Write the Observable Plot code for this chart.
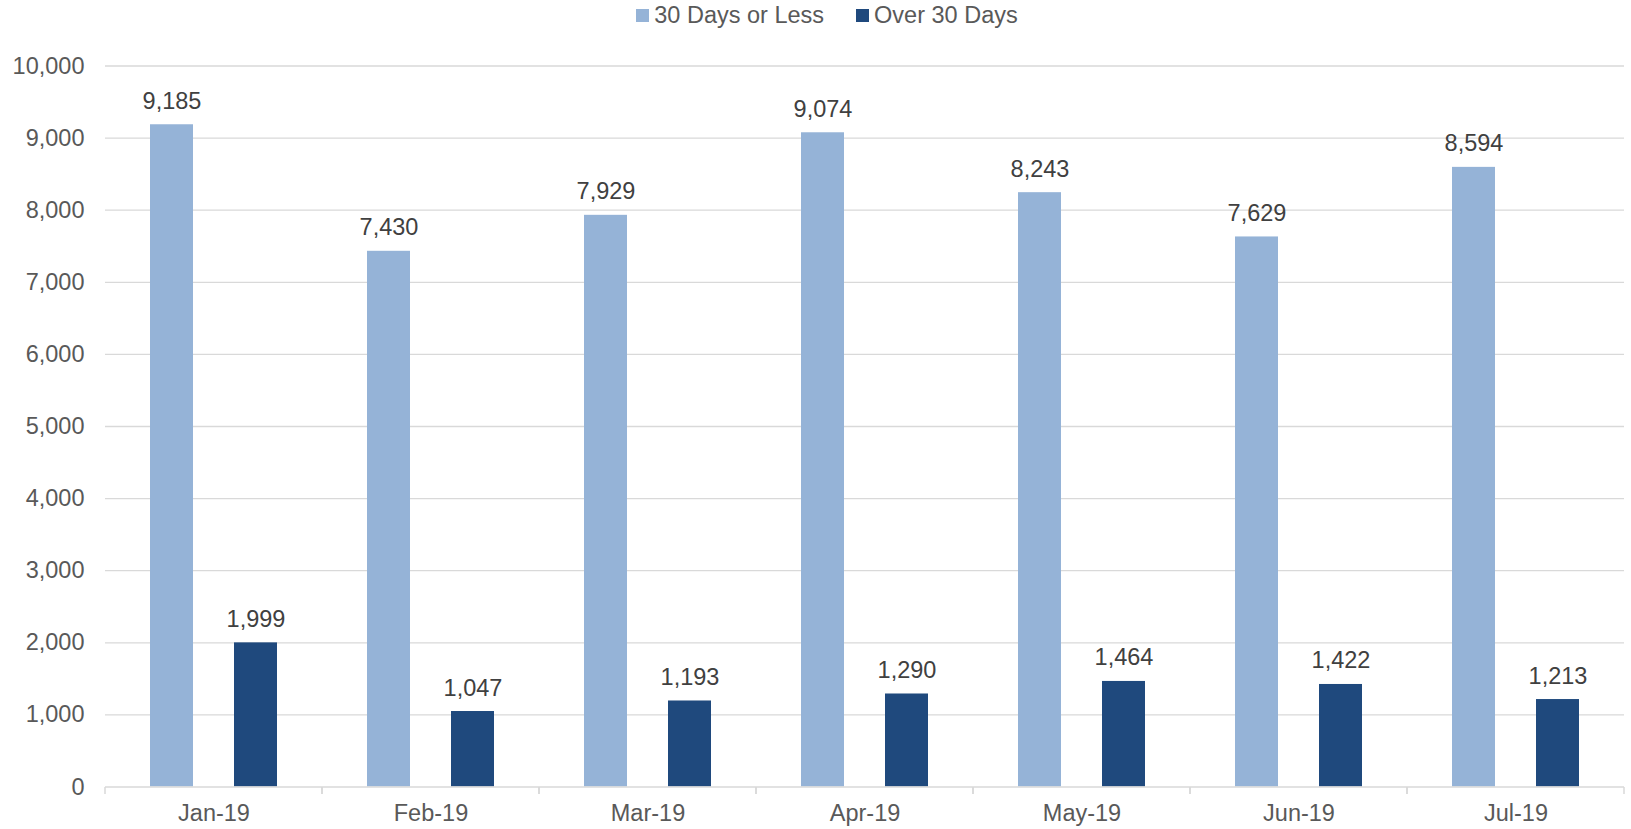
<!DOCTYPE html>
<html><head><meta charset="utf-8">
<script src="https://cdn.jsdelivr.net/npm/d3@7"></script>
<script src="https://cdn.jsdelivr.net/npm/@observablehq/plot@0.6"></script>
<style>
body{margin:0;background:#fff;font-family:"Liberation Sans",Arial,sans-serif;}
#wrap{position:relative;width:1631px;height:829px;}
#legend{position:absolute;left:0;top:0;width:1631px;height:30px;display:flex;justify-content:center;align-items:center;gap:32px;font-size:23.5px;color:#595959;padding-left:23px;box-sizing:border-box;}
#legend span.item{display:inline-flex;align-items:center;}
.sw{display:inline-block;width:13px;height:13px;margin-right:5px;}
</style></head><body>
<div id="wrap"><div id="chart"></div><div id="legend"></div></div>
<script>
const months = ["Jan-19","Feb-19","Mar-19","Apr-19","May-19","Jun-19","Jul-19"];
const series = ["30 Days or Less","Over 30 Days"];
const under30 = [9185,7430,7929,9074,8243,7629,8594];
const over30 = [1999,1047,1193,1290,1464,1422,1213];
const yTicks = [0,1000,2000,3000,4000,5000,6000,7000,8000,9000,10000];
const colors = ["#95b3d7","#1f497d"];

const data = months.flatMap((m,i)=>[
  {month:m, series:series[0], value:under30[i]},
  {month:m, series:series[1], value:over30[i]}
]);
const fmt = d3.format(",");

const legend = document.getElementById("legend");
series.forEach((s,i)=>{
  const item = document.createElement("span"); item.className="item";
  const sw = document.createElement("span"); sw.className="sw"; sw.style.background=colors[i];
  item.appendChild(sw); item.appendChild(document.createTextNode(s));
  legend.appendChild(item);
});

const chart = Plot.plot({
  width:1631, height:829,
  marginTop:65.5, marginBottom:42.5, marginLeft:103, marginRight:5,
  style:{fontFamily:"'Liberation Sans', Arial, sans-serif", fontSize:"23.5px", color:"#595959", background:"#fff"},
  fx:{domain:months, paddingInner:0, paddingOuter:0, label:null},
  x:{domain:series, paddingInner:0.494, paddingOuter:0.53, axis:null},
  y:{domain:[0,10000], label:null},
  color:{domain:series, range:colors},
  marks:[
    Plot.ruleY(yTicks.slice(1), {stroke:"#d9d9d9", strokeWidth:1.3}),
    Plot.axisY({ticks:yTicks, tickFormat:fmt, tickSize:0, tickPadding:21, label:null}),
    Plot.axisFx({anchor:"bottom", tickSize:0, tickPadding:17, label:null}),
    Plot.barY(data, {fx:"month", x:"series", y:"value", fill:"series"}),
    Plot.ruleY([0], {stroke:"#d9d9d9", strokeWidth:1.5, render(index, scales, values, dimensions, context, next){
      const g = next(index, scales, values, dimensions, context);
      const line = g.querySelector("line");
      const x1 = +line.getAttribute("x1"), x2 = +line.getAttribute("x2");
      const y0 = scales.y(0);
      for (const xx of [x1, x2]) {
        const t = document.createElementNS("http://www.w3.org/2000/svg","line");
        t.setAttribute("x1", xx); t.setAttribute("x2", xx);
        t.setAttribute("y1", y0); t.setAttribute("y2", y0 + 7);
        t.setAttribute("stroke", "#d9d9d9"); t.setAttribute("stroke-width", 1.5);
        g.appendChild(t);
      }
      return g;
    }}),
    Plot.text(data, {fx:"month", x:"series", y:"value", text:d=>fmt(d.value), dy:-16, lineAnchor:"bottom", fill:"#404040", fontSize:23.5})
  ]
});
document.getElementById("chart").appendChild(chart);
</script>
</body></html>
